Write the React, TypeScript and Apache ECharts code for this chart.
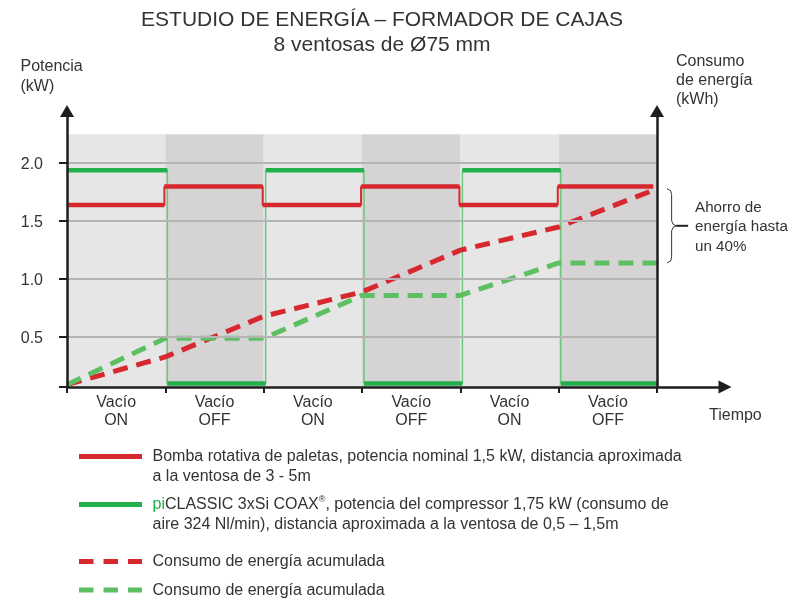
import React, { useEffect, useRef } from "react";
import * as echarts from "echarts";

// ---- data ----
const phaseLabels = ["Vacío\nON", "Vacío\nOFF", "Vacío\nON", "Vacío\nOFF", "Vacío\nON", "Vacío\nOFF"];
const phaseBoundaries = [0, 1, 2, 3, 4, 5, 6];
const yTickValues = [0.5, 1.0, 1.5, 2.0];
// power (kW) per phase
const pumpPower = [1.64, 1.8, 1.64, 1.8, 1.64, 1.8];
const coaxPower = [1.94, 0.1, 1.94, 0.1, 1.94, 0.1];
// accumulated energy at each phase boundary
const pumpEnergy = [0.09, 0.33, 0.68, 0.89, 1.25, 1.45, 1.78];
const coaxEnergy = [0.09, 0.49, 0.49, 0.86, 0.86, 1.14, 1.14];
const legendTexts = [
  "Bomba rotativa de paletas, potencia nominal 1,5 kW, distancia aproximada\na la ventosa de 3 - 5m",
  "{g|pi}CLASSIC 3xSi COAX{sup|®}, potencia del compressor 1,75 kW (consumo de\naire 324 Nl/min), distancia aproximada a la ventosa de 0,5 – 1,5m",
  "Consumo de energía acumulada",
  "Consumo de energía acumulada",
];
const titleText = "ESTUDIO DE ENERGÍA – FORMADOR DE CAJAS";
const subtitleText = "8 ventosas de Ø75 mm";
const savingText = "Ahorro de\nenergía hasta\nun 40%";

// ---- style ----
const FONT = "'Liberation Sans', Arial, Helvetica, sans-serif";
const TXT = "#333333";
const AX = "#1e1e1e";
const RED = "#d7282f";
const GREEN = "#21b04b";
const GREEN_THIN = "#6cc97a";
const GREEN_DASH = "#5dbf62";
const BAND_ON = "#e6e6e6";
const BAND_OFF = "#d5d3d4";
const Y_MIN = 0.07;
const Y_MAX = 2.45;
const BAND_TOP = 2.25;
const X_MAX = 6.69;

function stepPoints(values: number[], shift: number, end: number) {
  const pts: any[] = [];
  values.forEach((v, i) => {
    const a = i === 0 ? 0 : i + shift;
    const b = i === values.length - 1 ? end : i + 1 + shift;
    pts.push([a, v], [b, v]);
  });
  return pts;
}
function segPoints(values: number[], shift: number, end: number) {
  const pts: any[] = [];
  values.forEach((v, i) => {
    const a = i === 0 ? 0 : i + shift;
    const b = i === values.length - 1 ? end : i + 1 + shift;
    pts.push([a, v], [b, v], [b, "-"]);
  });
  return pts;
}

export default function App() {
  const ref = useRef<HTMLDivElement>(null);
  useEffect(() => {
    if (!ref.current) return;
    const chart = echarts.init(ref.current, null, { renderer: "svg" });
    const axisLineStyle = { color: AX, width: 2.5 };
    const option: any = {
      animation: false,
      grid: { left: 67, top: 111, width: 658, height: 276, containLabel: false, outerBoundsMode: "none" },
      xAxis: {
        type: "value",
        min: 0,
        max: X_MAX,
        z: 10,
        axisLine: { show: true, onZero: false, symbol: ["none", "triangle"], symbolSize: [13, 13], lineStyle: axisLineStyle },
        axisTick: { show: true, customValues: phaseBoundaries, length: 6, lineStyle: { color: AX, width: 2 } },
        axisLabel: {
          customValues: phaseBoundaries.slice(0, -1).map((v) => v + 0.5),
          formatter: (v: number) => phaseLabels[Math.floor(v)] || "",
          fontSize: 16,
          lineHeight: 18.5,
          color: TXT,
          fontFamily: FONT,
          margin: 5,
        },
        splitLine: { show: false },
      },
      yAxis: [
        {
          type: "value",
          min: Y_MIN,
          max: Y_MAX,
          z: 10,
          axisLine: { show: true, onZero: false, symbol: ["none", "triangle"], symbolSize: [14, 12], lineStyle: axisLineStyle },
          axisTick: { show: true, customValues: [Y_MIN, ...yTickValues], length: 8, lineStyle: { color: AX, width: 2 } },
          axisLabel: {
            customValues: yTickValues,
            formatter: (v: number) => v.toFixed(1),
            fontSize: 16,
            color: TXT,
            fontFamily: FONT,
            margin: 24,
          },
          splitLine: { show: false },
        },
        {
          type: "value",
          position: "right",
          offset: -68,
          min: Y_MIN,
          max: Y_MAX,
          z: 10,
          axisLine: { show: true, onZero: false, symbol: ["none", "triangle"], symbolSize: [14, 12], lineStyle: axisLineStyle },
          axisTick: { show: false },
          axisLabel: { show: false },
          splitLine: { show: false },
        },
      ],
      series: [
        {
          name: "bands",
          type: "line",
          z: 0,
          silent: true,
          data: [[0, Y_MIN]],
          symbol: "none",
          lineStyle: { opacity: 0 },
          markArea: {
            silent: true,
            data: phaseLabels.map((_, i) => [
              { xAxis: phaseBoundaries[i], yAxis: Y_MIN, itemStyle: { color: i % 2 === 0 ? BAND_ON : BAND_OFF } },
              { xAxis: phaseBoundaries[i + 1], yAxis: BAND_TOP },
            ]),
          },
        },
        {
          name: "grid",
          type: "line",
          z: 1,
          silent: true,
          data: [[0, Y_MIN]],
          symbol: "none",
          lineStyle: { opacity: 0 },
          markLine: {
            silent: true,
            symbol: ["none", "none"],
            label: { show: false },
            lineStyle: { color: "#b4b4b4", width: 2, type: "solid" },
            data: yTickValues.map((v) => [{ coord: [0, v] }, { coord: [6, v] }]),
          },
        },
        {
          name: "coaxStep",
          type: "line",
          z: 2,
          silent: true,
          symbol: "none",
          data: stepPoints(coaxPower, 0.02, 6),
          lineStyle: { color: GREEN_THIN, width: 1.5 },
        },
        {
          name: "pumpStep",
          type: "line",
          z: 2,
          silent: true,
          symbol: "none",
          data: stepPoints(pumpPower, -0.01, 5.96),
          lineStyle: { color: RED, width: 2 },
        },
        {
          name: "pumpEnergy",
          type: "line",
          z: 3,
          silent: true,
          symbol: "none",
          yAxisIndex: 1,
          data: pumpEnergy.map((v, i) => [phaseBoundaries[i], v]),
          lineStyle: { color: RED, width: 5, type: [15, 9], cap: "butt" },
        },
        {
          name: "coaxEnergy",
          type: "line",
          z: 3,
          silent: true,
          symbol: "none",
          yAxisIndex: 1,
          data: coaxEnergy.map((v, i) => [phaseBoundaries[i], v]),
          lineStyle: { color: GREEN_DASH, width: 5, type: [15, 9], cap: "butt" },
        },
        {
          name: "coaxPower",
          type: "line",
          z: 4,
          silent: true,
          symbol: "none",
          connectNulls: false,
          data: segPoints(coaxPower, 0.02, 6),
          lineStyle: { color: GREEN, width: 4.5, cap: "butt" },
        },
        {
          name: "pumpPower",
          type: "line",
          z: 4,
          silent: true,
          symbol: "none",
          connectNulls: false,
          data: segPoints(pumpPower, -0.01, 5.96),
          lineStyle: { color: RED, width: 4.5, cap: "butt" },
        },
      ],
    };
    chart.setOption(option);

    const xEnd = chart.convertToPixel({ xAxisIndex: 0 }, 6) as number;
    const yTop = chart.convertToPixel({ yAxisIndex: 1 }, pumpEnergy[pumpEnergy.length - 1]) as number;
    const yBot = chart.convertToPixel({ yAxisIndex: 1 }, coaxEnergy[coaxEnergy.length - 1]) as number;
    const yMid = (yTop + yBot) / 2;
    const bx = xEnd + 10;

    const textStyle = (extra: any) => ({ fill: TXT, fontFamily: FONT, fontSize: 16, ...extra });
    const legendY = [456.5, 504.5, 561.5, 590];
    const legendColors = [RED, GREEN, RED, GREEN_DASH];
    const legendDashed = [false, false, true, true];

    const graphics: any[] = [
      { type: "text", x: 382, y: 18, style: textStyle({ text: titleText, fontSize: 21, align: "center", verticalAlign: "middle" }) },
      { type: "text", x: 382, y: 43, style: textStyle({ text: subtitleText, fontSize: 21, align: "center", verticalAlign: "middle" }) },
      { type: "text", x: 20.5, y: 55, style: textStyle({ text: "Potencia\n(kW)", lineHeight: 20, verticalAlign: "top" }) },
      { type: "text", x: 676, y: 50.5, style: textStyle({ text: "Consumo\nde energía\n(kWh)", lineHeight: 19, verticalAlign: "top" }) },
      { type: "text", x: 709, y: 414, style: textStyle({ text: "Tiempo", verticalAlign: "middle" }) },
      {
        type: "polyline",
        shape: {
          points: [
            [bx, yTop],
            [bx + 3.5, yTop + 2],
            [bx + 4.5, yTop + 6],
            [bx + 4.5, yMid - 5],
            [bx + 6, yMid - 1.5],
            [bx + 9, yMid],
            [bx + 6, yMid + 1.5],
            [bx + 4.5, yMid + 5],
            [bx + 4.5, yBot - 6],
            [bx + 3.5, yBot - 2],
            [bx, yBot],
          ],
        },
        style: { stroke: "#333", lineWidth: 1, fill: null },
      },
      { type: "line", shape: { x1: bx + 9, y1: yMid, x2: bx + 21, y2: yMid }, style: { stroke: "#222", lineWidth: 2 } },
      { type: "text", x: 695, y: yMid, style: textStyle({ text: savingText, fontSize: 15.2, lineHeight: 19.5, verticalAlign: "middle" }) },
    ];

    legendTexts.forEach((t, i) => {
      graphics.push({
        type: "line",
        shape: { x1: 79, y1: legendY[i], x2: 142, y2: legendY[i] },
        style: { stroke: legendColors[i], lineWidth: 5, lineDash: legendDashed[i] ? [14.5, 10] : null, lineCap: "butt" },
      });
      graphics.push({
        type: "text",
        x: 152.5,
        y: legendY[i] - 10.5,
        style: textStyle({
          text: t,
          lineHeight: 19.5,
          verticalAlign: "top",
          rich: {
            g: { fill: GREEN, fontFamily: FONT, fontSize: 16, lineHeight: 19.5 },
            sup: { fill: TXT, fontFamily: FONT, fontSize: 9, lineHeight: 19.5, verticalAlign: "top", padding: [0, 0, 8, 0] },
          },
        }),
      });
    });

    chart.setOption({ graphic: graphics });
    return () => chart.dispose();
  }, []);
  return <div ref={ref} style={{ position: "fixed", left: 0, top: 0, width: 791, height: 600 }} />;
}
